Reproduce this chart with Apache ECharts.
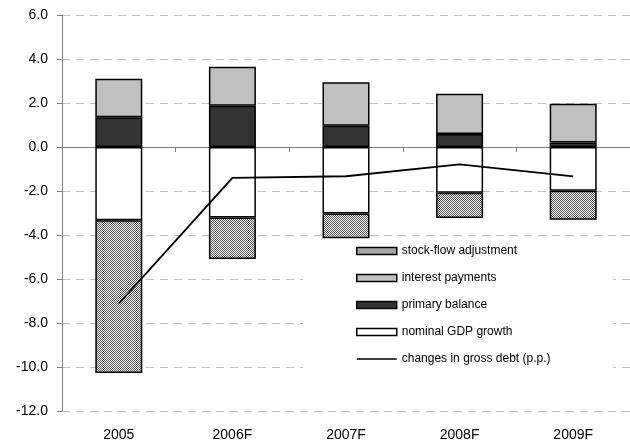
<!DOCTYPE html>
<html>
<head>
<meta charset="utf-8">
<script src="https://cdn.jsdelivr.net/npm/echarts@6/dist/echarts.min.js"></script>
<style>
html,body{margin:0;padding:0;background:#fff;}
#chart{width:630px;height:444px;}
</style>
</head>
<body>
<div id="chart"></div>
<script>
const categories = ['2005', '2006F', '2007F', '2008F', '2009F'];
const primaryBalance = [1.35, 1.87, 0.97, 0.59, 0.21];
const interestPayments = [1.75, 1.78, 1.97, 1.83, 1.76];
const nominalGDP = [-3.33, -3.20, -3.02, -2.08, -1.99];
const stockFlow = [-6.94, -1.89, -1.13, -1.15, -1.32];
const grossDebtChange = [-7.12, -1.40, -1.33, -0.79, -1.34];
const yTicks = { min: -12, max: 6, interval: 2 };

const pc = document.createElement('canvas');
pc.width = 2; pc.height = 2;
const pctx = pc.getContext('2d');
pctx.fillStyle = '#ffffff'; pctx.fillRect(0, 0, 2, 2);
pctx.fillStyle = '#505050'; pctx.fillRect(0, 0, 1, 1); pctx.fillRect(1, 1, 1, 1);
const hatch = { image: pc, repeat: 'repeat' };

const font = 'Liberation Sans, Arial, sans-serif';
const barBorder = { borderColor: '#000', borderWidth: 1.5 };

const chart = echarts.init(document.getElementById('chart'), null, { renderer: 'canvas' });
chart.setOption({
  animation: false,
  backgroundColor: '#fff',
  textStyle: { fontFamily: font },
  grid: { left: 62, top: 15, width: 578, height: 396, containLabel: false },
  graphic: [{
    type: 'rect', z: 1, silent: true,
    shape: { x: 303, y: 241, width: 310, height: 155 },
    style: { fill: '#fff' }
  }],
  legend: {
    orient: 'vertical', left: 356, top: 244, padding: 0,
    itemWidth: 40, itemHeight: 7, itemGap: 13,
    textStyle: { fontFamily: font, fontSize: 12, color: '#000', lineHeight: 14 },
    data: [
      { name: 'stock-flow adjustment', icon: 'rect', itemStyle: { color: hatch, borderColor: '#000', borderWidth: 1.5 } },
      { name: 'interest payments', icon: 'rect', itemStyle: { color: '#c0c0c0', borderColor: '#000', borderWidth: 1.5 } },
      { name: 'primary balance', icon: 'rect', itemStyle: { color: '#333333', borderColor: '#000', borderWidth: 1.5 } },
      { name: 'nominal GDP growth', icon: 'rect', itemStyle: { color: '#ffffff', borderColor: '#000', borderWidth: 1.5 } },
      { name: 'changes in gross debt (p.p.)', icon: 'path://M0,0H40V1.6H0Z', itemStyle: { color: '#000', borderWidth: 0 } }
    ]
  },
  xAxis: [{
    type: 'category', data: categories, position: 'bottom',
    axisLine: { show: true, onZero: true, lineStyle: { color: '#808080', width: 1 } },
    axisTick: { show: true, length: 5, lineStyle: { color: '#808080' } },
    axisLabel: { show: false }, splitLine: { show: false }
  }, {
    type: 'category', data: categories, position: 'bottom',
    axisLine: { show: false, onZero: false },
    axisTick: { show: false },
    axisLabel: { show: true, margin: 17, fontSize: 14, color: '#000', fontFamily: font },
    splitLine: { show: false }
  }],
  yAxis: {
    type: 'value', min: yTicks.min, max: yTicks.max, interval: yTicks.interval,
    axisLine: { show: true, lineStyle: { color: '#808080', width: 1 } },
    axisTick: { show: true, length: 5, lineStyle: { color: '#808080' } },
    axisLabel: { margin: 14, fontSize: 14, color: '#000', fontFamily: font, formatter: v => v.toFixed(1) },
    splitLine: { show: true, lineStyle: { color: '#c0c0c0', type: [8, 6], width: 1 } }
  },
  series: [
    { name: 'primary balance', type: 'bar', stack: 'a', barWidth: 47, data: primaryBalance,
      itemStyle: Object.assign({ color: '#333333' }, barBorder) },
    { name: 'interest payments', type: 'bar', stack: 'a', barWidth: 47, data: interestPayments,
      itemStyle: Object.assign({ color: '#c0c0c0' }, barBorder) },
    { name: 'nominal GDP growth', type: 'bar', stack: 'a', barWidth: 47, data: nominalGDP,
      itemStyle: Object.assign({ color: '#ffffff' }, barBorder) },
    { name: 'stock-flow adjustment', type: 'bar', stack: 'a', barWidth: 47, data: stockFlow,
      itemStyle: Object.assign({ color: hatch }, barBorder) },
    { name: 'changes in gross debt (p.p.)', type: 'line', data: grossDebtChange, z: 5,
      symbol: 'none', showSymbol: false,
      lineStyle: { color: '#000', width: 1.8 }, itemStyle: { color: '#000' } }
  ]
});
</script>
</body>
</html>
